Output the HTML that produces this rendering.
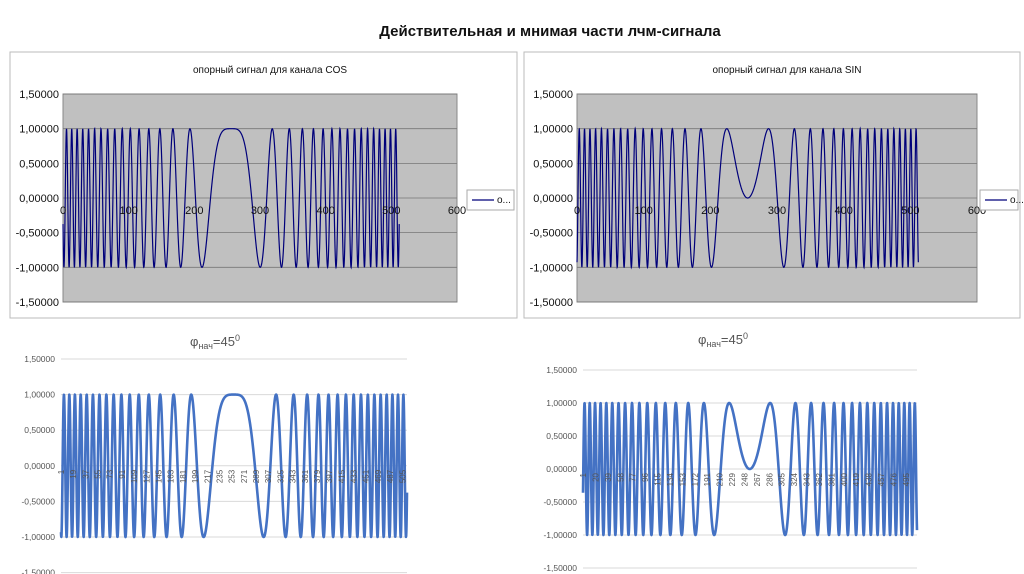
<!DOCTYPE html>
<html><head><meta charset="utf-8"><style>
body{margin:0;width:1024px;height:574px;background:#fff;overflow:hidden;font-family:"Liberation Sans",sans-serif}
svg{position:absolute;left:0;top:0}
</style></head><body>
<svg id="s" width="1024" height="574" xmlns="http://www.w3.org/2000/svg" font-family="Liberation Sans, sans-serif">
<text x="550" y="36" font-size="15" font-weight="bold" text-anchor="middle" fill="#111">Действительная и мнимая части лчм-сигнала</text>
<text x="215" y="346" font-size="13" text-anchor="middle" fill="#555">φ<tspan font-size="9" dy="3">нач</tspan><tspan dy="-3">=45</tspan><tspan font-size="9" dy="-5">0</tspan></text>
<text x="723" y="344" font-size="13" text-anchor="middle" fill="#555">φ<tspan font-size="9" dy="3">нач</tspan><tspan dy="-3">=45</tspan><tspan font-size="9" dy="-5">0</tspan></text>
</svg>
<script>
(function(){
var s=document.getElementById('s'),ns='http://www.w3.org/2000/svg';
function el(t,a,txt){var e=document.createElementNS(ns,t);for(var k in a)e.setAttribute(k,a[k]);if(txt!==undefined)e.textContent=String(txt);s.appendChild(e);return e;}
var A=0.0016;
function f(n,sn){var p=A*(n-256)*(n-256);return sn?Math.sin(p):Math.cos(p);}
function topChart(bx,bw,px0,px1,title,sn,lw){
 el('rect',{x:bx,y:52,width:bw,height:266,fill:'#fff',stroke:'#bbb'});
 el('text',{x:(px0+px1)/2+10,y:73,'font-size':10,'text-anchor':'middle',fill:'#111'},title);
 var y=function(v){return 198-v*69.3;};
 el('rect',{x:px0,y:94,width:px1-px0,height:208,fill:'#c0c0c0',stroke:'#888'});
 for(var v=-1.5;v<=1.51;v+=0.5){el('line',{x1:px0,x2:px1,y1:y(v),y2:y(v),stroke:'#777','stroke-width':0.8});
  el('text',{x:px0-4,y:y(v)+4,'font-size':11,'text-anchor':'end',fill:'#111'},v.toFixed(5).replace('.',','));}
 var sc=(px1-px0)/600,d='';
 for(var n=0;n<=512;n+=0.25){d+=(n?'L':'M')+(px0+n*sc).toFixed(2)+','+y(f(n,sn)).toFixed(2);}
 el('path',{d:d,fill:'none',stroke:'#00007a','stroke-width':1.2});
 for(var t=0;t<=600;t+=100)el('text',{x:px0+t*sc,y:214,'font-size':11,'text-anchor':'middle',fill:'#111'},t);
 var lx=px1+(lw>45?10:3);el('rect',{x:lx,y:190,width:lw,height:20,fill:'#fff',stroke:'#aaa'});
 el('line',{x1:lx+5,x2:lx+27,y1:200,y2:200,stroke:'#00007a','stroke-width':1.2});
 el('text',{x:lx+30,y:203,'font-size':10,fill:'#111'},'о...');
}
topChart(10,507,63,457,'опорный сигнал для канала COS',false,47);
topChart(524,496,577,977,'опорный сигнал для канала SIN',true,38);
function bot(x0,x1,y15,step,sn,st){
 var y=function(v){return y15+(1.5-v)*step;};
 for(var v=-1.5;v<=1.51;v+=0.5){el('line',{x1:x0,x2:x1,y1:y(v),y2:y(v),stroke:'#d9d9d9','stroke-width':1});
  el('text',{x:x0-6,y:y(v)+3,'font-size':8.5,'text-anchor':'end',fill:'#555'},v.toFixed(5).replace('.',','));}
 var sc=(x1-x0)/511,d='';
 for(var n=1;n<=512;n+=0.25){d+=(n>1?'L':'M')+(x0+(n-1)*sc).toFixed(2)+','+y(f(n,sn)).toFixed(2);}
 el('path',{d:d,fill:'none',stroke:'#4472c4','stroke-width':2.6,'stroke-linejoin':'round'});
 for(var n=1;n<=512;n+=st){var xx=x0+(n-1)*sc+3,yy=y(0)+4;
  el('text',{x:xx,y:yy,'font-size':8,'text-anchor':'end',fill:'#555',transform:'rotate(-90 '+xx+' '+yy+')'},n);}
}
bot(61,407,359,71.2,false,18);
bot(583,917,370,66,true,19);
})();
</script>
</body></html>
